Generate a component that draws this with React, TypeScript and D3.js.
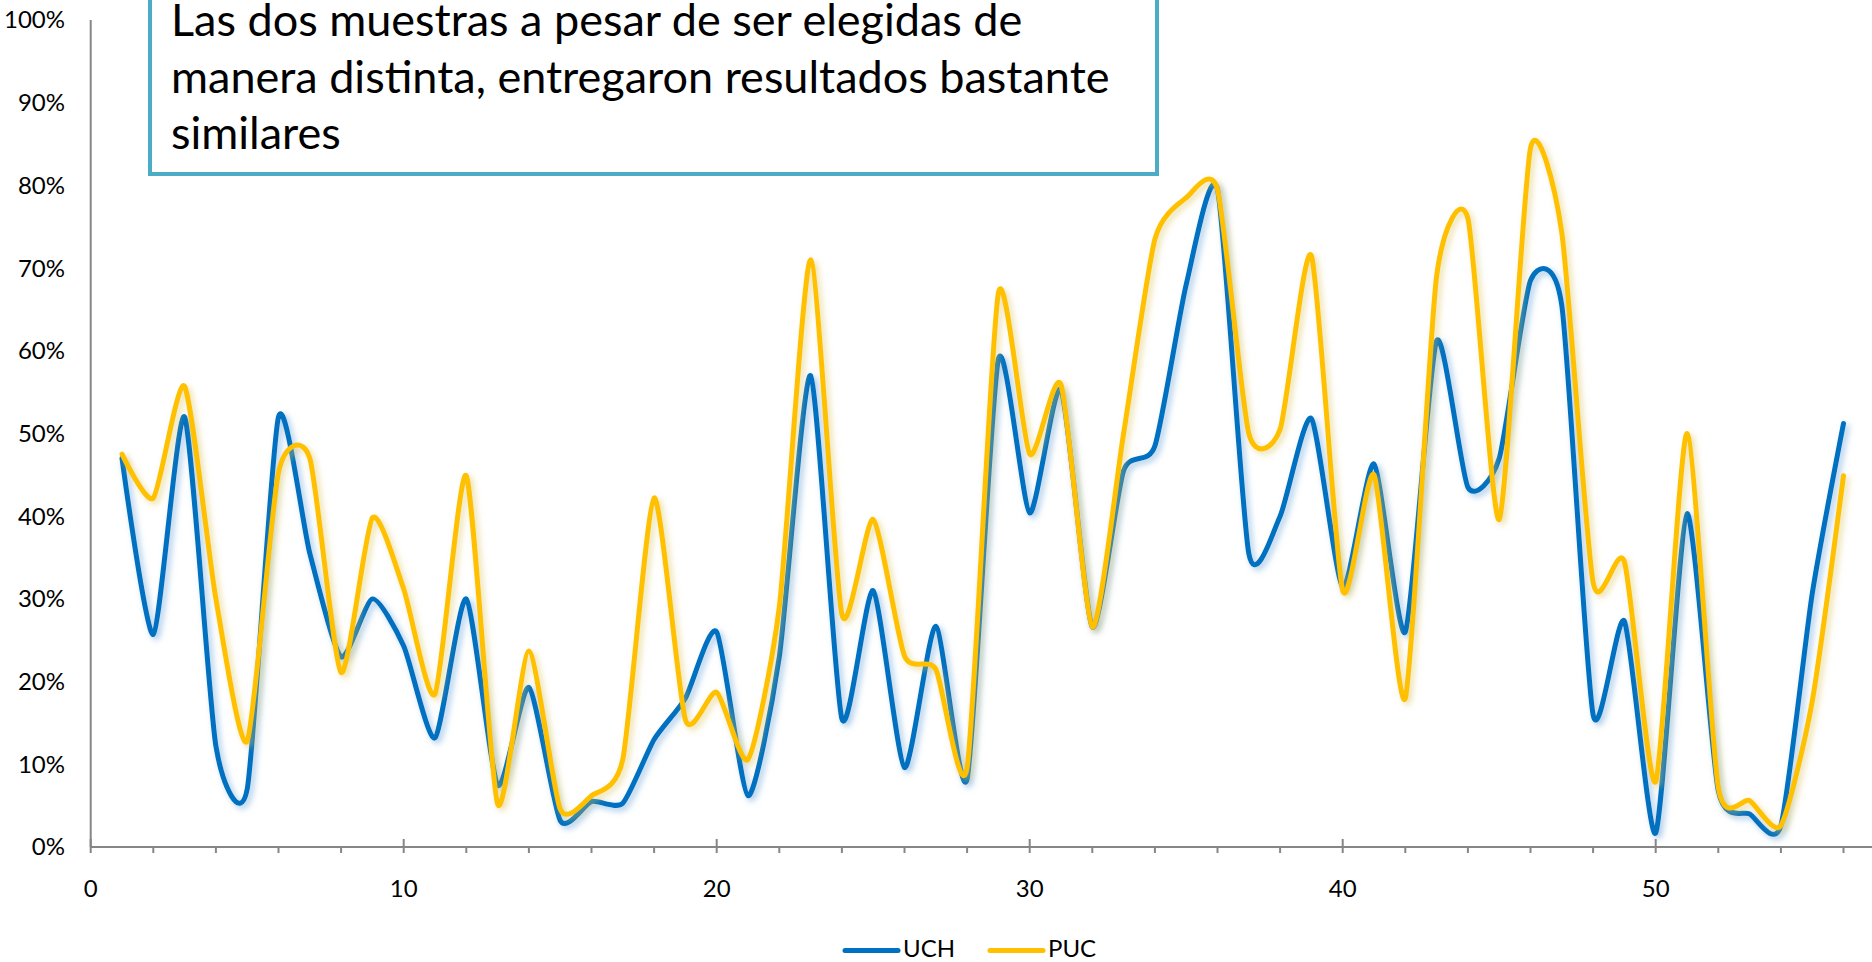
import React from 'react';
import * as d3 from 'd3';

const W = 1872;
const H = 962;

const X_VALUES = [
  1, 2, 3, 4, 5, 6, 7, 8, 9, 10, 11, 12, 13, 14, 15, 16, 17, 18, 19, 20,
  21, 22, 23, 24, 25, 26, 27, 28, 29, 30, 31, 32, 33, 34, 35, 36, 37, 38, 39, 40,
  41, 42, 43, 44, 45, 46, 47, 48, 49, 50, 51, 52, 53, 54, 55, 56,
];

const UCH = [
  47, 25.7, 52, 12.2, 7, 52, 35.5, 23, 30, 24.3,
  13.2, 30, 7.5, 19.3, 3.2, 5.5, 5.3, 13, 18, 26,
  6.2, 23, 57, 15.5, 31, 9.6, 26.7, 8.2, 59, 40.4,
  55.3, 26.6, 45.5, 48.5, 68, 79.5, 35.5, 40, 51.8, 31.4,
  46.3, 26, 61.2, 43.5, 47, 68.5, 65.5, 16, 27.3, 1.7,
  40.3, 6.8, 4, 2.6, 30.6, 51.2,
];

const PUC = [
  47.5, 42.2, 55.7, 30, 12.8, 45.3, 47, 21.1, 39.8, 31.2,
  18.5, 44.9, 5.2, 23.7, 4.6, 6.2, 10.6, 42.2, 15.4, 18.7,
  10.6, 29, 71, 28.1, 39.6, 23.1, 21.5, 9.6, 67, 47.5,
  55.9, 26.6, 50, 73.5, 78.5, 79.5, 50, 50.5, 71.5, 31,
  45, 18, 69, 76, 39.6, 84.5, 74.3, 32, 34.5, 7.9,
  50, 7.2, 5.6, 2.6, 17.6, 44.9,
];

const SERIES_NAMES = ['UCH', 'PUC'];
const SERIES_COLORS = ['#0070C0', '#FFC000'];
const SHADOW_COLORS = ['#5B9BD5', '#D9C35A'];

const Y_TICKS = [0, 10, 20, 30, 40, 50, 60, 70, 80, 90, 100];
const X_LABEL_TICKS = [0, 10, 20, 30, 40, 50];
const X_MINOR_TICKS = [
  2, 4, 6, 8, 12, 14, 16, 18, 22, 24, 26, 28, 32, 34, 36, 38, 42, 44, 46, 48, 52, 54, 56,
];

const NOTE_LINES = [
  'Las dos muestras a pesar de ser elegidas de',
  'manera distinta, entregaron resultados bastante',
  'similares',
];

const FONT = 'Lato, "Open Sans", sans-serif';

export default function App() {
  const x0 = 90.7;
  const unit = 31.3;
  const x = d3.scaleLinear().domain([0, 58]).range([x0, x0 + 58 * unit]);
  const y = d3.scaleLinear().domain([0, 100]).range([847, 20]);

  const line = d3
    .line<number>()
    .x((_, i) => x(X_VALUES[i]))
    .y((d) => y(d))
    .curve(d3.curveCardinal.tension(0.35));

  const seriesData = [UCH, PUC];

  return (
    <svg
      width={W}
      height={H}
      style={{ position: 'absolute', left: 0, top: 0, background: '#fff' }}
      fontFamily={FONT}
    >
      <defs>
        {SERIES_NAMES.map((n, i) => (
          <filter
            key={n}
            id={`shadow-${n}`}
            filterUnits="userSpaceOnUse"
            x={0}
            y={0}
            width={W}
            height={H}
          >
            <feGaussianBlur in="SourceAlpha" stdDeviation={3} result="blur" />
            <feOffset in="blur" dx={3} dy={3} result="off" />
            <feFlood floodColor={SHADOW_COLORS[i]} floodOpacity={0.55} result="col" />
            <feComposite in="col" in2="off" operator="in" result="sh" />
            <feMerge>
              <feMergeNode in="sh" />
              <feMergeNode in="SourceGraphic" />
            </feMerge>
          </filter>
        ))}
      </defs>
      <rect x={0} y={0} width={W} height={H} fill="#fff" />

      {/* Y axis */}
      <line x1={x0} x2={x0} y1={y(100)} y2={y(0)} stroke="#868686" strokeWidth={2} />
      {Y_TICKS.map((t) => (
        <text
          key={t}
          x={65}
          y={y(t)}
          dy="0.35em"
          textAnchor="end"
          fontSize={24}
          fill="#000"
        >
          {`${t}%`}
        </text>
      ))}

      {/* X axis */}
      <line x1={x0} x2={W} y1={y(0)} y2={y(0)} stroke="#868686" strokeWidth={2} />
      {X_LABEL_TICKS.map((t) => (
        <g key={t}>
          <line x1={x(t)} x2={x(t)} y1={y(0) - 8} y2={y(0) + 6} stroke="#868686" strokeWidth={2} />
          <text x={x(t)} y={897} textAnchor="middle" fontSize={24} fill="#000">
            {t}
          </text>
        </g>
      ))}
      {X_MINOR_TICKS.map((t) => (
        <line key={t} x1={x(t)} x2={x(t)} y1={y(0)} y2={y(0) + 6} stroke="#868686" strokeWidth={2} />
      ))}

      {/* Series */}
      {seriesData.map((vals, i) => (
        <path
          key={SERIES_NAMES[i]}
          d={line(vals) || ''}
          fill="none"
          stroke={SERIES_COLORS[i]}
          strokeWidth={5}
          strokeLinejoin="round"
          strokeLinecap="round"
          filter={`url(#shadow-${SERIES_NAMES[i]})`}
        />
      ))}

      {/* Note box */}
      <rect x={150} y={-20} width={1007} height={194} fill="#fff" stroke="#4BACC6" strokeWidth={4} />
      {NOTE_LINES.map((l, i) => (
        <text key={i} x={171} y={36 + i * 56.5} fontSize={45} fill="#000">
          {l}
        </text>
      ))}

      {/* Legend */}
      {SERIES_NAMES.map((n, i) => {
        const lx = 845 + i * 145;
        return (
          <g key={n}>
            <line
              x1={lx}
              x2={lx + 53}
              y1={950.5}
              y2={950.5}
              stroke={SERIES_COLORS[i]}
              strokeWidth={5}
              strokeLinecap="round"
            />
            <text x={lx + 58} y={957} fontSize={24} fill="#000">
              {n}
            </text>
          </g>
        );
      })}
    </svg>
  );
}
